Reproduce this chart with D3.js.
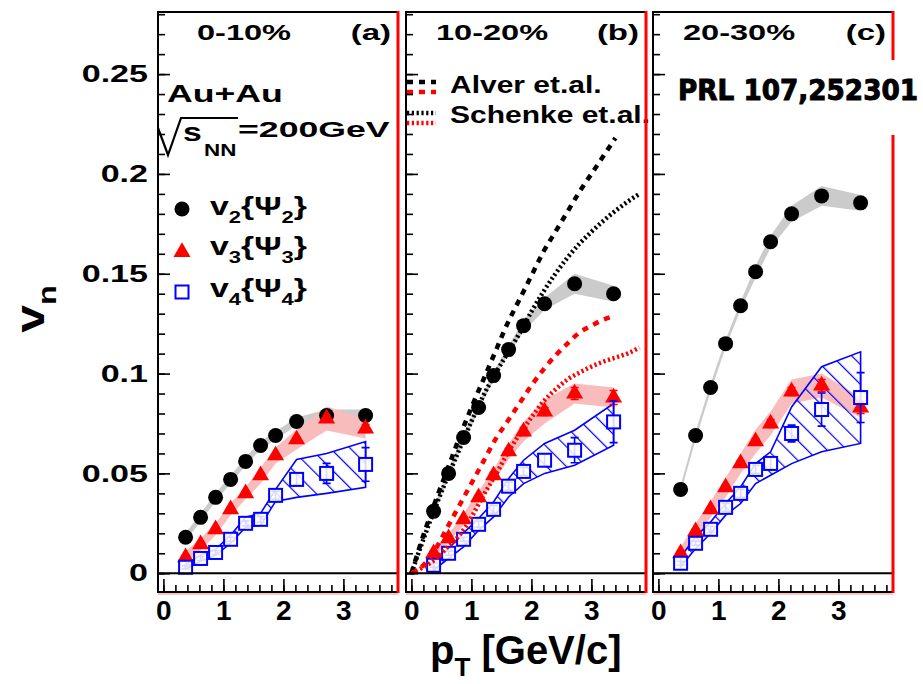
<!DOCTYPE html>
<html>
<head>
<meta charset="utf-8">
<script src="https://cdn.jsdelivr.net/npm/d3@7"></script>
<style>
  body { margin: 0; background: #fff; }
  svg { display: block; }
  text { font-family: "Liberation Sans", Arial, sans-serif; font-weight: bold; fill: #000; }
</style>
</head>
<body>
<svg id="chart" width="923" height="684"></svg>
<script>
// ---- data ----
const pT = [0.37, 0.62, 0.87, 1.12, 1.37, 1.62, 1.87, 2.22, 2.72, 3.37];

// 0-10%
const v2A    = [0.018, 0.028, 0.038, 0.047, 0.056, 0.064, 0.069, 0.076, 0.079, 0.079];
const v2SysA = [0.002, 0.002, 0.002, 0.002, 0.002, 0.002, 0.002, 0.002, 0.003, 0.003];
const v3A    = [0.008, 0.0145, 0.022, 0.032, 0.040, 0.049, 0.059, 0.067, 0.0775, 0.0725];
const v3SysA = [0.003, 0.003, 0.003, 0.003, 0.003, 0.004, 0.004, 0.005, 0.006, 0.005];
const v3ErrA = [0.001, 0.001, 0.001, 0.001, 0.001, 0.001, 0.001, 0.001, 0.0015, 0.002];
const v4A    = [0.003, 0.0074, 0.0104, 0.017, 0.025, 0.027, 0.039, 0.047, 0.050, 0.0545];
const v4ErrA = [0.0008, 0.001, 0.001, 0.001, 0.0012, 0.0015, 0.002, 0.003, 0.005, 0.0084];
const v4LoA  = [0.002, 0.006, 0.009, 0.015, 0.023, 0.024, 0.036, 0.038, 0.040, 0.043];
const v4HiA  = [0.0045, 0.009, 0.012, 0.019, 0.028, 0.030, 0.042, 0.057, 0.060, 0.066];

// 10-20%
const v2B    = [0.031, 0.050, 0.068, 0.083, 0.099, 0.112, 0.124, 0.135, 0.145, 0.140];
const v2SysB = [0.002, 0.002, 0.002, 0.002, 0.002, 0.002, 0.003, 0.003, 0.005, 0.004];
const v3B    = [0.010, 0.0175, 0.027, 0.038, 0.049, 0.061, 0.071, 0.081, 0.090, 0.088];
const v3SysB = [0.002, 0.002, 0.003, 0.003, 0.003, 0.004, 0.005, 0.006, 0.005, 0.005];
const v3ErrB = [0.001, 0.001, 0.001, 0.001, 0.0015, 0.0015, 0.002, 0.002, 0.003, 0.0035];
const v4B    = [0.004, 0.010, 0.017, 0.0245, 0.032, 0.0436, 0.051, 0.0566, 0.0616, 0.0758];
const v4ErrB = [0.001, 0.001, 0.001, 0.0015, 0.002, 0.002, 0.002, 0.003, 0.0063, 0.0104];
const v4LoB  = [0.0015, 0.0074, 0.0132, 0.0215, 0.0282, 0.0382, 0.0449, 0.050, 0.0541, 0.0641];
const v4HiB  = [0.006, 0.0124, 0.0202, 0.0274, 0.0357, 0.0474, 0.0566, 0.065, 0.0716, 0.085];

// 20-30%
const v2C    = [0.042, 0.069, 0.093, 0.115, 0.134, 0.151, 0.166, 0.180, 0.189, 0.1855];
const v2SysC = [0.002, 0.002, 0.002, 0.002, 0.002, 0.003, 0.003, 0.004, 0.005, 0.004];
const v3C    = [0.010, 0.021, 0.032, 0.043, 0.055, 0.066, 0.075, 0.091, 0.094, 0.083];
const v3SysC = [0.003, 0.004, 0.004, 0.005, 0.005, 0.006, 0.006, 0.006, 0.006, 0.005];
const v3ErrC = [0.001, 0.001, 0.001, 0.001, 0.0015, 0.0015, 0.002, 0.002, 0.003, 0.003];
const v4C    = [0.005, 0.015, 0.022, 0.033, 0.040, 0.052, 0.055, 0.070, 0.082, 0.088];
const v4ErrC = [0.001, 0.001, 0.0015, 0.002, 0.002, 0.002, 0.003, 0.0042, 0.0083, 0.0125];
const v4LoC  = [0.0032, 0.0124, 0.0199, 0.0291, 0.0349, 0.0449, 0.0491, 0.0549, 0.0608, 0.065];
const v4HiC  = [0.0082, 0.0182, 0.0257, 0.0349, 0.0432, 0.0549, 0.0608, 0.0833, 0.1034, 0.1109];

// model curves (10-20% panel)
const alverPt   = [0, 0.2, 0.4, 0.6, 0.8, 1.0, 1.2, 1.4, 1.6, 1.8, 2.0, 2.2, 2.4, 2.6, 2.8, 3.0, 3.2, 3.4];
const alverV2   = [0, 0.019, 0.036, 0.052, 0.068, 0.083, 0.097, 0.111, 0.125, 0.137, 0.149, 0.161, 0.171, 0.181, 0.191, 0.200, 0.209, 0.218];
const alverV3   = [0, 0.004, 0.012, 0.023, 0.034, 0.045, 0.056, 0.067, 0.076, 0.085, 0.094, 0.102, 0.109, 0.115, 0.1205, 0.124, 0.127, 0.129];
const schenkePt = [0, 0.2, 0.4, 0.6, 0.8, 1.0, 1.2, 1.4, 1.6, 1.8, 2.0, 2.2, 2.4, 2.6, 2.8, 3.0, 3.2, 3.4, 3.6, 3.8];
const schenkeV2 = [0, 0.017, 0.033, 0.048, 0.062, 0.076, 0.089, 0.100, 0.110, 0.120, 0.131, 0.141, 0.150, 0.158, 0.165, 0.171, 0.1765, 0.1815, 0.186, 0.190];
const schenkeV3 = [0, 0.003, 0.007, 0.013, 0.019, 0.028, 0.039, 0.049, 0.060, 0.0695, 0.078, 0.086, 0.092, 0.097, 0.1005, 0.1035, 0.106, 0.108, 0.110, 0.113];

const centralities = ['0-10%', '10-20%', '20-30%'];
const panelTags = ['(a)', '(b)', '(c)'];
const xTicks = [0, 1, 2, 3];
const yTicks = [0, 0.05, 0.1, 0.15, 0.2, 0.25];

const panels = [
  { v2: v2A, v2Sys: v2SysA, v3: v3A, v3Sys: v3SysA, v3Err: v3ErrA, v4: v4A, v4Err: v4ErrA, v4Lo: v4LoA, v4Hi: v4HiA },
  { v2: v2B, v2Sys: v2SysB, v3: v3B, v3Sys: v3SysB, v3Err: v3ErrB, v4: v4B, v4Err: v4ErrB, v4Lo: v4LoB, v4Hi: v4HiB },
  { v2: v2C, v2Sys: v2SysC, v3: v3C, v3Sys: v3SysC, v3Err: v3ErrC, v4: v4C, v4Err: v4ErrC, v4Lo: v4LoC, v4Hi: v4HiC }
];

// ---- layout ----
const TOP = 12, BOTTOM = 592;
const panelLeft = [158, 406, 653];
const panelW = 240;
const BLUE = '#0000ff', RED = '#ff0000';
const PINK = '#f9bcbc', GRAY = '#cbcbcb';

const svg = d3.select('#chart');
const y = d3.scaleLinear().domain([-0.0094, 0.2811]).range([BOTTOM, TOP]);

// diagonal hatch for the v4 systematic band
svg.append('defs').append('pattern')
  .attr('id', 'hatch')
  .attr('patternUnits', 'userSpaceOnUse')
  .attr('width', 14).attr('height', 14)
  .attr('patternTransform', 'rotate(-45)')
  .append('line')
  .attr('x1', 0).attr('y1', 0).attr('x2', 0).attr('y2', 14)
  .attr('stroke', BLUE).attr('stroke-width', 2.4);

// text stretched horizontally, with optional subscripts
function richText(parent, x, yy, size, sx, parts, anchor, rot) {
  const t = parent.append('text')
    .attr('transform', `translate(${x},${yy})` + (rot ? ` rotate(${rot})` : '') + ` scale(${sx},1)`)
    .attr('text-anchor', anchor || 'start')
    .style('font-size', size + 'px');
  let shift = 0;
  parts.forEach(p => {
    const sub = p[1] === 'sub';
    const off = sub ? size * 0.3 : 0;
    t.append('tspan')
      .attr('dy', off - shift)
      .style('font-size', (sub ? size * 0.65 : size) + 'px')
      .text(p[0]);
    shift = off;
  });
  return t;
}

const tri = d3.symbol().type(d3.symbolTriangle).size(125);

panels.forEach((p, i) => {
  const left = panelLeft[i];
  const x = d3.scaleLinear().domain([-0.09, 3.91]).range([left, left + panelW]);
  const g = svg.append('g');
  const idx = d3.range(pT.length);

  // systematic bands
  g.append('path')
    .attr('d', d3.area().x(j => x(pT[j])).y0(j => y(p.v2[j] - p.v2Sys[j])).y1(j => y(p.v2[j] + p.v2Sys[j]))(idx))
    .attr('fill', GRAY);
  g.append('path')
    .attr('d', d3.area().x(j => x(pT[j])).y0(j => y(p.v3[j] - p.v3Sys[j])).y1(j => y(p.v3[j] + p.v3Sys[j]))(idx))
    .attr('fill', PINK);
  g.append('path')
    .attr('d', d3.area().x(j => x(pT[j])).y0(j => y(p.v4Lo[j])).y1(j => y(p.v4Hi[j]))(idx) + 'Z')
    .attr('fill', 'url(#hatch)')
    .attr('stroke', BLUE).attr('stroke-width', 1.6);

  // v2 circles
  g.selectAll('.v2').data(idx).join('circle')
    .attr('cx', j => x(pT[j])).attr('cy', j => y(p.v2[j])).attr('r', 7.5)
    .attr('fill', '#000');

  // v3 triangles + errors
  g.selectAll('.v3e').data(idx).join('path')
    .attr('d', j => `M${x(pT[j])},${y(p.v3[j] - p.v3Err[j])}V${y(p.v3[j] + p.v3Err[j])}` +
      `M${x(pT[j]) - 4},${y(p.v3[j] + p.v3Err[j])}h8M${x(pT[j]) - 4},${y(p.v3[j] - p.v3Err[j])}h8`)
    .attr('stroke', RED).attr('stroke-width', 1.6).attr('fill', 'none');
  g.selectAll('.v3').data(idx).join('path')
    .attr('transform', j => `translate(${x(pT[j])},${y(p.v3[j])})`)
    .attr('d', tri)
    .attr('fill', RED);

  // v4 squares + errors
  g.selectAll('.v4e').data(idx).join('path')
    .attr('d', j => `M${x(pT[j])},${y(p.v4[j] - p.v4Err[j])}V${y(p.v4[j] + p.v4Err[j])}` +
      `M${x(pT[j]) - 4},${y(p.v4[j] + p.v4Err[j])}h8M${x(pT[j]) - 4},${y(p.v4[j] - p.v4Err[j])}h8`)
    .attr('stroke', BLUE).attr('stroke-width', 1.6).attr('fill', 'none');
  g.selectAll('.v4').data(idx).join('rect')
    .attr('x', j => x(pT[j]) - 6.5).attr('y', j => y(p.v4[j]) - 6.5)
    .attr('width', 13).attr('height', 13)
    .attr('fill', '#fff').attr('fill-opacity', 0.85)
    .attr('stroke', BLUE).attr('stroke-width', 2);

  // model curves in the 10-20% panel
  if (i === 1) {
    const line = (xs, ys) => d3.line().curve(d3.curveMonotoneX).x(j => x(xs[j])).y(j => y(ys[j]))(d3.range(xs.length));
    const curves = [
      [alverPt, alverV2, '#000', '6,6'],
      [alverPt, alverV3, RED, '6,6'],
      [schenkePt, schenkeV2, '#000', '2.2,2.6'],
      [schenkePt, schenkeV3, RED, '2.2,2.6']
    ];
    curves.forEach(c => {
      g.append('path').attr('d', line(c[0], c[1]))
        .attr('fill', 'none').attr('stroke', c[2]).attr('stroke-width', 4.5)
        .attr('stroke-dasharray', c[3]);
    });

    // legend for the models
    const leg = [[82, '#000', '6,6'], [92, RED, '6,6'], [113, '#000', '2.2,2.6'], [123, RED, '2.2,2.6']];
    leg.forEach(l => {
      g.append('line').attr('x1', left + 1).attr('x2', left + 30).attr('y1', l[0]).attr('y2', l[0])
        .attr('stroke', l[1]).attr('stroke-width', 4.5).attr('stroke-dasharray', l[2]);
    });
    richText(g, 450, 93, 24, 1.25, [['Alver et.al.']]);
    richText(g, 450, 123, 24, 1.25, [['Schenke et.al.']]);
  }

  // zero line
  g.append('line').attr('x1', left).attr('x2', left + panelW)
    .attr('y1', y(0)).attr('y2', y(0))
    .attr('stroke', '#000').attr('stroke-width', 2);

  // inward ticks
  const yMinor = g.append('g').attr('transform', `translate(${left},0)`)
    .call(d3.axisRight(y).tickValues(d3.range(0, 0.2805, 0.01)).tickSize(7).tickFormat(''));
  const yMajor = g.append('g').attr('transform', `translate(${left},0)`)
    .call(d3.axisRight(y).tickValues(yTicks).tickSize(12).tickFormat(''));
  const xMinor = g.append('g').attr('transform', `translate(0,${BOTTOM})`)
    .call(d3.axisTop(x).tickValues(d3.range(0, 3.81, 0.2)).tickSize(7).tickFormat(''));
  const xMajor = g.append('g').attr('transform', `translate(0,${BOTTOM})`)
    .call(d3.axisTop(x).tickValues(xTicks).tickSize(13).tickFormat(''));
  [yMinor, yMajor, xMinor, xMajor].forEach(a => {
    a.select('.domain').remove();
    a.selectAll('line').attr('stroke', '#000').attr('stroke-width', 1.6);
  });

  // x tick labels
  const xl = g.append('g').attr('transform', `translate(0,${BOTTOM})`)
    .call(d3.axisBottom(x).tickValues(xTicks).tickSize(0).tickPadding(8).tickFormat(d3.format('d')));
  xl.select('.domain').remove();
  xl.selectAll('text').attr('font-family', null).attr('font-size', null)
    .style('font-size', '28px').style('font-weight', 'bold');

  // frame: black with the red right edge
  g.append('rect').attr('x', left).attr('y', TOP).attr('width', panelW).attr('height', BOTTOM - TOP)
    .attr('fill', 'none').attr('stroke', '#000').attr('stroke-width', 2);
  g.append('line').attr('x1', left).attr('x2', left + panelW).attr('y1', BOTTOM + 2).attr('y2', BOTTOM + 2)
    .attr('stroke', '#ffb0b0').attr('stroke-width', 1.5);
  g.append('line').attr('x1', left + panelW).attr('x2', left + panelW).attr('y1', TOP - 1).attr('y2', BOTTOM + 1)
    .attr('stroke', RED).attr('stroke-width', 3);

  // panel headers
  richText(g, left + 86, 40, 22, 1.48, [[centralities[i]]], 'middle');
  richText(g, left + 233, 40, 22, 1.5, [[panelTags[i]]], 'end');
});

// y tick labels (left panel only)
const yLab = svg.append('g').attr('transform', `translate(${panelLeft[0]},0)`)
  .call(d3.axisLeft(y).tickValues(yTicks).tickSize(0).tickPadding(10).tickFormat(d => String(d)));
yLab.select('.domain').remove();
yLab.selectAll('text').attr('font-family', null).attr('font-size', null)
  .style('font-size', '24px').style('font-weight', 'bold')
  .attr('x', -10 / 1.42).attr('transform', 'scale(1.42,1)');

// axis titles
richText(svg, 44, 309, 40, 1.25, [['v'], ['n', 'sub']], 'middle', -90);
richText(svg, 430, 664, 40, 1.0, [['p'], ['T', 'sub'], [' [GeV/c]']]);

// system label
const sys = svg.append('g');
richText(sys, 167, 102, 23, 1.55, [['Au+Au']]);
sys.append('path').attr('d', 'M158,128L168,155L181,118H238')
  .attr('fill', 'none').attr('stroke', '#000').attr('stroke-width', 2.2);
richText(sys, 183, 141, 26, 1.3, [['s']]);
richText(sys, 204, 156, 16, 1.4, [['NN']]);
richText(sys, 238, 137, 22, 1.62, [['=200GeV']]);

// data legend
const lg = svg.append('g');
lg.append('circle').attr('cx', 182).attr('cy', 209).attr('r', 7.5).attr('fill', '#000');
lg.append('path').attr('transform', 'translate(182,252)').attr('d', tri).attr('fill', RED);
lg.append('rect').attr('x', 175.5).attr('y', 285.5).attr('width', 13).attr('height', 13)
  .attr('fill', '#fff').attr('stroke', BLUE).attr('stroke-width', 2);
[[215, '2'], [255, '3'], [297, '4']].forEach(r => {
  richText(lg, 210, r[0], 26, 1.3, [['v'], [r[1], 'sub'], ['{\u03A8'], [r[1], 'sub'], ['}']]);
});

// reference tag box
svg.append('rect').attr('x', 668).attr('y', 60).attr('width', 255).attr('height', 75).attr('fill', '#fff');
svg.append('text').attr('x', 678).attr('y', 100)
  .attr('textLength', 240).attr('lengthAdjust', 'spacingAndGlyphs')
  .style('font-family', '"DejaVu Sans Condensed", "DejaVu Sans", sans-serif')
  .style('font-weight', 'bold').style('font-size', '29px')
  .attr('stroke', '#000').attr('stroke-width', 0.9)
  .text('PRL 107,252301');
</script>
</body>
</html>
